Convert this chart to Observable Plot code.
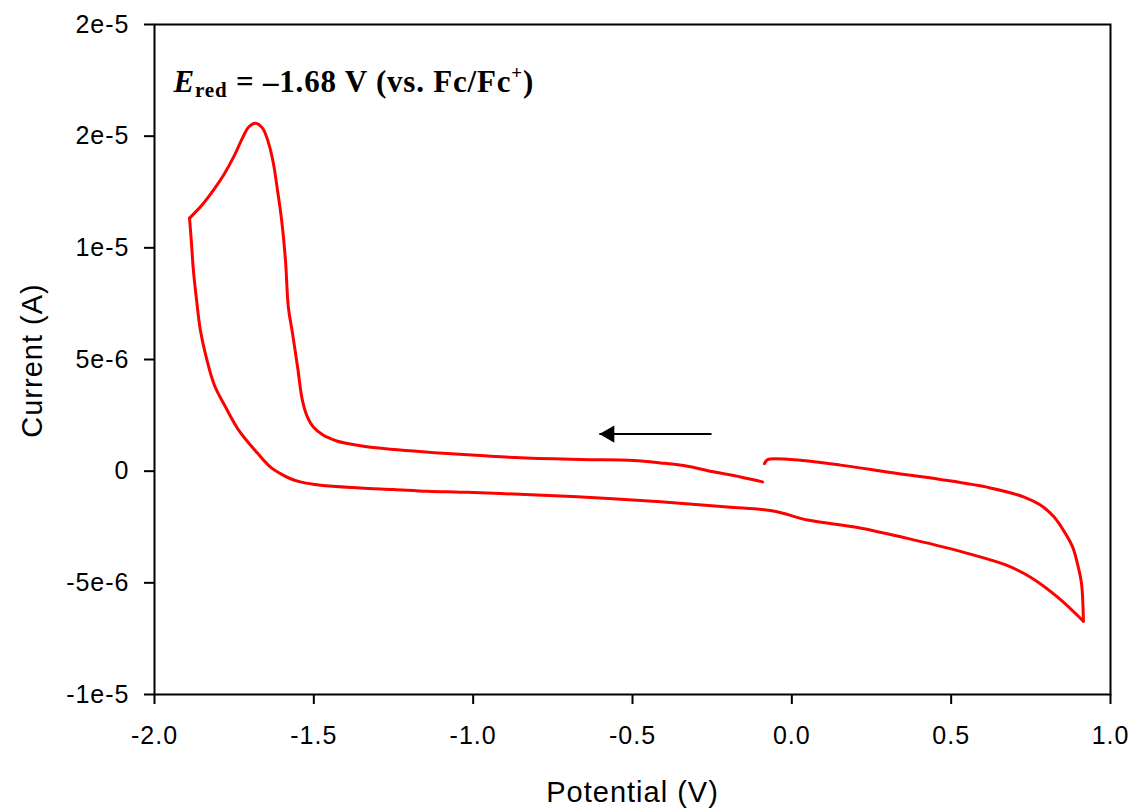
<!DOCTYPE html>
<html>
<head>
<meta charset="utf-8">
<script src="https://cdn.jsdelivr.net/npm/d3@7"></script>
<script src="https://cdn.jsdelivr.net/npm/@observablehq/plot@0.6"></script>
<style>
  html, body { margin: 0; padding: 0; background: #fff; overflow: hidden; }
  #chart svg text { letter-spacing: 1px; }
  #chart svg text.annotation { letter-spacing: 0.8px; }
</style>
</head>
<body>
<div id="chart"></div>
<script>
// Cyclic voltammogram, in scan order (starts near -0.09 V going negative)
const potential = [
  -0.092, -0.161, -0.246, -0.327, -0.412, -0.497, -0.663, -0.851, -0.977, -1.081,
  -1.187, -1.281, -1.344, -1.394, -1.426, -1.448, -1.470, -1.501, -1.520, -1.536,
  -1.551, -1.567, -1.580, -1.589, -1.601, -1.614, -1.627, -1.642, -1.661, -1.683,
  -1.705, -1.724, -1.752, -1.783, -1.815, -1.846, -1.890,
  -1.884, -1.878, -1.868, -1.856, -1.837, -1.812, -1.777, -1.736, -1.677, -1.636,
  -1.605, -1.573, -1.542, -1.479, -1.354, -1.250, -1.143, -1.040, -0.914, -0.673,
  -0.412, -0.202, -0.058, 0.049, 0.206, 0.363, 0.520, 0.677, 0.749, 0.834, 0.915,
  0.909, 0.896, 0.881, 0.852, 0.821, 0.780, 0.727, 0.623, 0.466, 0.310, 0.153,
  -0.004, -0.076, -0.086];
// current in microamperes
const currentMicroA = [
  -0.48, -0.26, -0.03, 0.22, 0.37, 0.48, 0.52, 0.60, 0.70, 0.79,
  0.90, 1.02, 1.12, 1.24, 1.34, 1.46, 1.61, 1.97, 2.42, 3.18,
  4.66, 6.18, 7.35, 9.45, 11.24, 12.58, 13.79, 14.69, 15.36, 15.58,
  15.40, 14.91, 14.06, 13.26, 12.58, 12.00, 11.33,
  10.21, 9.00, 7.66, 6.31, 5.06, 3.85, 2.87, 1.84, 0.81, 0.18,
  -0.11, -0.34, -0.48, -0.63, -0.75, -0.82, -0.90, -0.94, -1.00, -1.15,
  -1.37, -1.60, -1.78, -2.19, -2.52, -3.01, -3.56, -4.23, -4.75, -5.64, -6.72,
  -5.03, -4.13, -3.39, -2.64, -2.02, -1.52, -1.15, -0.75, -0.37, -0.06, 0.27,
  0.52, 0.52, 0.34];

const xTicks = [-2, -1.5, -1, -0.5, 0, 0.5, 1];
const xTickLabels = ["-2.0", "-1.5", "-1.0", "-0.5", "0.0", "0.5", "1.0"];
const yTicks = [-1e-5, -5e-6, 0, 5e-6, 1e-5, 1.5e-5, 2e-5];
const yTickLabels = ["-1e-5", "-5e-6", "0", "5e-6", "1e-5", "2e-5", "2e-5"];

const xTitle = "Potential (V)";
const yTitle = "Current (A)";

// scan direction arrow (V, A)
const arrowX = [-0.252, -0.604];
const arrowY = [1.66e-6, 1.66e-6];

// annotation anchor (V, A)
const annotationX = [-1.94];
const annotationY = [1.70e-5];
const annotationMarker = "E";

// split the sweep at the two switching potentials so the corners stay sharp
const iMin = potential.indexOf(d3.min(potential));
const iMax = potential.indexOf(d3.max(potential));
const cv = [];
potential.forEach((p, i) => {
  const seg = i <= iMin ? 0 : i <= iMax ? 1 : 2;
  cv.push({potential: p, current: currentMicroA[i] * 1e-6, seg});
  if (i === iMin || i === iMax) cv.push({potential: p, current: currentMicroA[i] * 1e-6, seg: seg + 1});
});

const chart = Plot.plot({
  width: 1136,
  height: 808,
  marginLeft: 154,
  marginRight: 26,
  marginTop: 24,
  marginBottom: 114,
  style: {fontFamily: "'Liberation Sans', Arial, Helvetica, sans-serif", background: "#fff", color: "#000"},
  x: {domain: [-2, 1]},
  y: {domain: [-1e-5, 2e-5]},
  marks: [
    Plot.frame({stroke: "#000", strokeWidth: 2}),
    Plot.axisX({
      ticks: xTicks, anchor: "bottom", tickSize: 10, tickPadding: 22, strokeWidth: 2,
      fontSize: 25, label: null,
      tickFormat: d => xTickLabels[xTicks.indexOf(d)]
    }),
    Plot.axisY({
      ticks: yTicks, anchor: "left", tickSize: 10, tickPadding: 15, strokeWidth: 2,
      fontSize: 25, label: null,
      tickFormat: d => yTickLabels[yTicks.indexOf(d)]
    }),
    Plot.text([xTitle], {
      frameAnchor: "bottom", text: d => d, textAnchor: "middle", lineAnchor: "bottom",
      dy: 107, fontSize: 29, fill: "#000"
    }),
    Plot.text([yTitle], {
      frameAnchor: "left", text: d => d, textAnchor: "middle", lineAnchor: "bottom",
      rotate: -90, dx: -113, dy: 1, fontSize: 29, fill: "#000"
    }),
    Plot.line(cv, {
      x: "potential", y: "current", z: "seg", stroke: "#ff0000", strokeWidth: 3,
      curve: "catmull-rom", strokeLinejoin: "round", strokeLinecap: "round"
    }),
    Plot.link([0], {
      x1: () => arrowX[0], x2: () => arrowX[1], y1: () => arrowY[0], y2: () => arrowY[1],
      stroke: "#000", strokeWidth: 2
    }),
    Plot.dot([0], {
      x: () => arrowX[1], y: () => arrowY[1], symbol: "triangle", r: 6.4, rotate: -90,
      fill: "#000", stroke: "none", dx: 10
    }),
    Plot.text([annotationMarker], {
      x: () => annotationX[0], y: () => annotationY[0], text: d => d,
      textAnchor: "start", lineAnchor: "bottom", fontSize: 31, fontWeight: "bold",
      fontFamily: "'Liberation Serif', 'Times New Roman', serif", fill: "#000"
    })
  ]
});

document.getElementById("chart").appendChild(chart);

// rich text for the annotation: E_red = –1.68 V (vs. Fc/Fc+)
const annNode = Array.from(chart.querySelectorAll("text"))
  .find(n => n.textContent === annotationMarker && n.getAttribute("font-weight") === "bold")
  || Array.from(chart.querySelectorAll("text")).find(n => n.textContent === annotationMarker);
if (annNode) {
  const t = d3.select(annNode);
  t.classed("annotation", true);
  t.text(null);
  t.append("tspan").attr("font-style", "italic").text("E");
  t.append("tspan").attr("font-size", 21).attr("dy", 5).text("red");
  t.append("tspan").attr("dy", -5).text(" = \u20131.68 V (vs. Fc/Fc");
  t.append("tspan").attr("font-size", 19).attr("dy", -13).text("+");
  t.append("tspan").attr("dy", 13).text(")");
}
</script>
</body>
</html>
